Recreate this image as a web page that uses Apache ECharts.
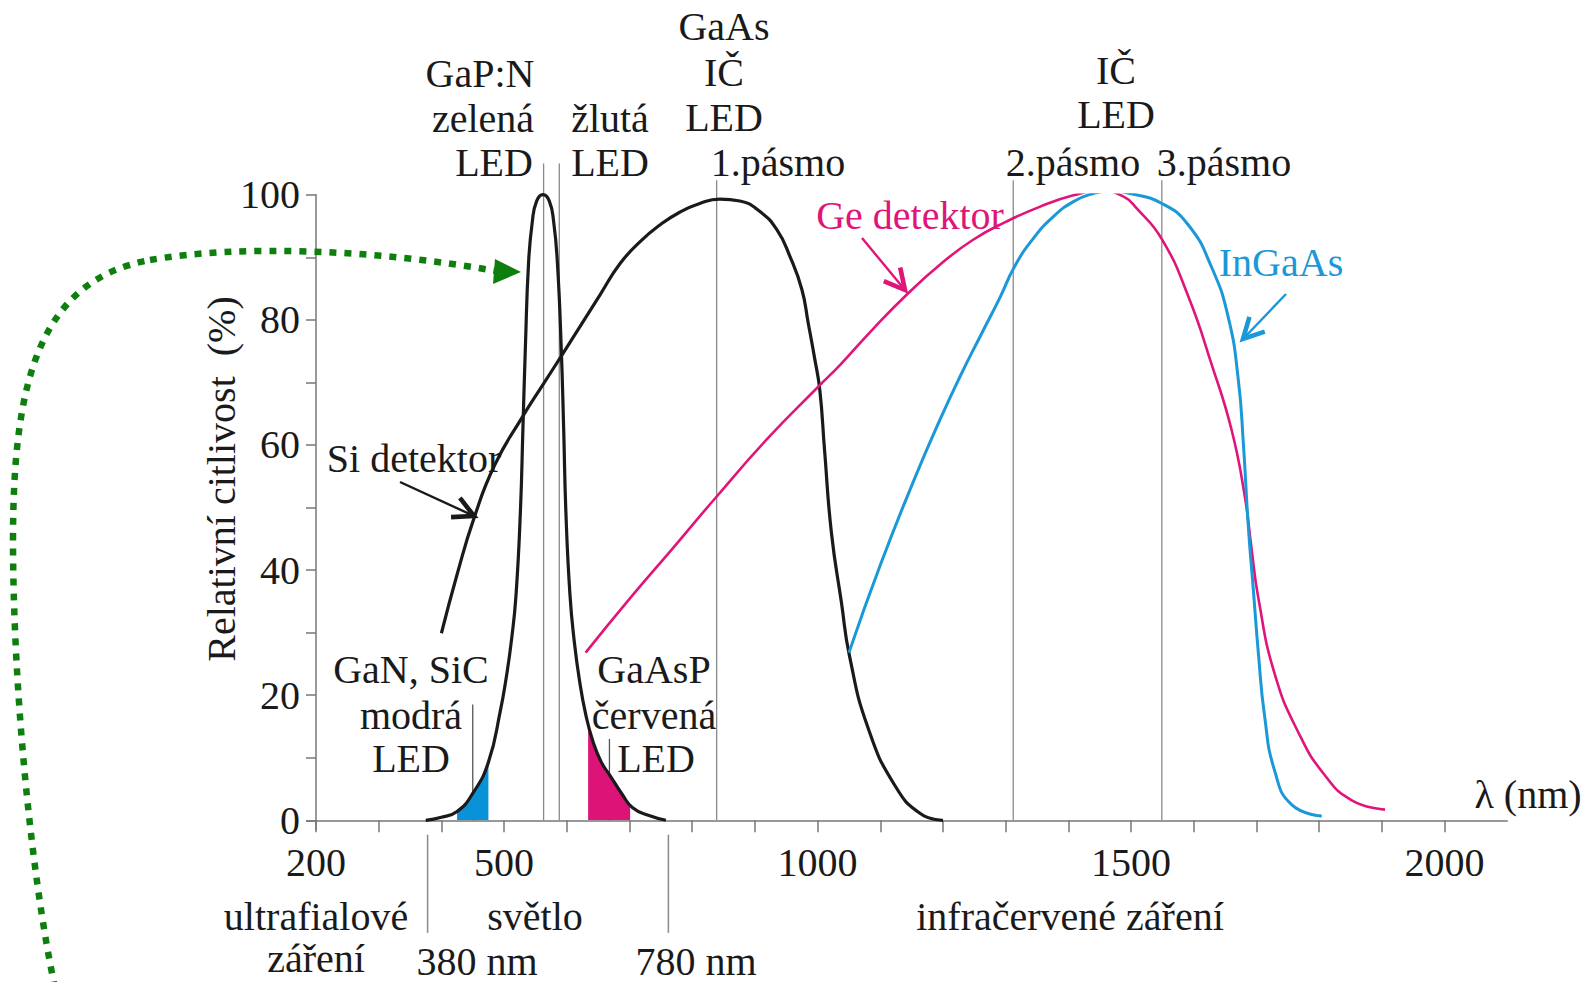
<!DOCTYPE html>
<html><head><meta charset="utf-8">
<script src="https://cdn.jsdelivr.net/npm/echarts@6/dist/echarts.min.js"></script>
<style>html,body{margin:0;padding:0;background:#fff}#c{width:1590px;height:982px}</style>
</head><body><div id="c"></div>
<script>
// ---- data (wavelength nm, relative sensitivity %) ----
const xTickValues = [200,300,400,500,600,700,800,900,1000,1100,1200,1300,1400,1500,1600,1700,1800,1900,2000];
const xLabelValues = [200,500,1000,1500,2000];
const yLabelValues = [0,20,40,60,80,100];
const gapLed = [[375,0],[400,0.5],[425,1.4],[450,4.3],[475,9.3],[494,17.5],[504,23.2],[512,29],[519,36],[526,49.4],[530,62.6],[534,75.8],[539,89.1],[545,95.7],[552,99],[562,100],[572,99],[579,95.7],[585,89.1],[591,75.8],[595,62.6],[598.5,49.4],[605,36.1],[612,28.5],[620,22.5],[630,17],[642,12.5],[655,9.3],[670,7],[688,4.2],[705,2],[730,0.8],[758,0]];
const siDetector = [[400,29.9],[425,39.3],[452,48.3],[485,56.8],[530,64.6],[563,69.8],[595,74.8],[653,84],[685,89],[717,92.5],[749,95.2],[780,97.2],[812,98.6],[844,99.3],[876,99],[908,97.3],[935,94.4],[956,90.1],[975,84.8],[985,79.5],[995,74],[1003.5,68.8],[1011,59.3],[1022,46],[1038,34.8],[1051,26.2],[1080,14.9],[1123,5.6],[1165,1],[1200,0]];
const geDetector = [[630,26.8],[700,35.4],[770,43.6],[836,51.4],[920,61],[1001,69.3],[1036,72.8],[1089,78.6],[1142,84],[1195,88.8],[1248,92.8],[1301,95.7],[1355,98.1],[1408,99.9],[1451,100.6],[1488,99.7],[1509,97.8],[1549,92.9],[1591,83.8],[1628,73],[1660,62.5],[1681,52],[1692,43.5],[1703,35.5],[1729,23.4],[1767,14],[1809,7.2],[1852,3.2],[1905,1.7]];
const inGaAs = [[1050,26.8],[1100,40.8],[1155,54.7],[1195,64],[1227,70.9],[1259,77.3],[1291,83.6],[1314,88.5],[1344,93],[1376,96.5],[1408,98.9],[1440,100.2],[1466,100.6],[1498,100.2],[1549,98.6],[1591,95.2],[1628,88.5],[1655,80.4],[1671,70.4],[1679,60.3],[1687,46.9],[1695,36.8],[1703,26.7],[1713,16.6],[1729,7.9],[1756,2.5],[1804,0.7]];
const blueLedFill = [[425,1.4],[450,4.3],[475,9.3]];
const redLedFill = [[634,15.5],[642,12.5],[655,9.3],[670,7],[688,4.2],[701,2.4]];
const ledPeakLines = [[563,105],[588,105]];          // [nm, top %]
const bandLines = [[839,102.3],[1312,102.3],[1549,102.3]];
const ledMarkLines = [[450,18.5],[668,13]];
const regionLines = [378,762];                      // below the axis

const TXT = '#1a1a1a', MAG = '#e0157a', BLU = '#1b98d8', GRN = '#0e7e0e', GREY = '#8a8a8a';
const FONT = '40px "Liberation Serif", "DejaVu Serif", serif';
const SMOOTH = 0.5;

function vline(x, y0, y1, color, w) {
  return {type:'line', data:[[x,y0],[x,y1]], symbol:'none', clip:false, silent:true, z:1,
          lineStyle:{color:color, width:w}, animation:false};
}
const series = [];
series.push({type:'line', data:redLedFill, smooth:SMOOTH, symbol:'none', z:2, animation:false,
  lineStyle:{width:0}, areaStyle:{color:'#dc1478', opacity:1}});
series.push({type:'line', data:blueLedFill, smooth:SMOOTH, symbol:'none', z:2, animation:false,
  lineStyle:{width:0}, areaStyle:{color:'#0a92d8', opacity:1}});
ledPeakLines.forEach(p => series.push(vline(p[0], 0, p[1], GREY, 1.3)));
bandLines.forEach(p => series.push(vline(p[0], 0, p[1], GREY, 1.3)));
ledMarkLines.forEach(p => series.push(vline(p[0], 0, p[1], '#555', 1.3)));
regionLines.forEach(x => series.push(vline(x, -2.3, -18, GREY, 1.5)));
series.push(vline(200, 0, -1.6, '#777', 1.5));
const curve = (d, c, w) => ({type:'line', data:d, smooth:SMOOTH, symbol:'none', z:5, animation:false,
  lineStyle:{color:c, width:w}});
series.push(curve(gapLed, TXT, 3.2));
series.push(curve(siDetector, TXT, 3.2));
series.push(curve(geDetector, MAG, 2.6));
series.push(curve(inGaAs, BLU, 3));

// ---- annotations (pixel layout) ----
const texts = [
  ['GaAs',724,26], ['IČ',724,72], ['LED',724,117],
  ['GaP:N',480,73], ['zelená',483,118], ['LED',494,162],
  ['žlutá',610,118], ['LED',610,162],
  ['1.pásmo',778,162],
  ['IČ',1116,70], ['LED',1116,114],
  ['2.pásmo',1073,162], ['3.pásmo',1224,162],
  ['Ge detektor',910,215,MAG], ['InGaAs',1281,262,BLU],
  ['Si detektor',414,458],
  ['GaN, SiC',411,669], ['modrá',411,715], ['LED',411,758],
  ['GaAsP',654,669], ['červená',654,715], ['LED',656,758],
  ['λ (nm)',1528,794],
  ['ultrafialové',316,916], ['záření',316,958], ['světlo',535,916], ['infračervené záření',1070,916],
  ['380 nm',477,961], ['780 nm',696,961]
];
const graphic = texts.map(t => ({type:'text', x:t[1], y:t[2], z:10,
  style:{text:t[0], font:FONT, fill:t[3]||TXT, align:'center', verticalAlign:'middle'}}));
graphic.push({type:'text', x:221, y:479, rotation:Math.PI/2, z:10,
  style:{text:'Relativní citlivost  (%)', font:FONT, fill:TXT, align:'center', verticalAlign:'middle'}});

function arrow(x1,y1,x2,y2,color,w){
  const a = Math.atan2(y2-y1, x2-x1), L = 23, s = 0.48;
  return [
    {type:'line', z:10, shape:{x1:x1,y1:y1,x2:x2,y2:y2}, style:{stroke:color, lineWidth:w}},
    {type:'polyline', z:10, shape:{points:[[x2-L*Math.cos(a-s), y2-L*Math.sin(a-s)],[x2,y2],[x2-L*Math.cos(a+s), y2-L*Math.sin(a+s)]]},
     style:{stroke:color, lineWidth:w+2.2, fill:null, lineJoin:'miter'}}
  ];
}
graphic.push(...arrow(400,482,474,516,TXT,2.4));
graphic.push(...arrow(862,238,905,290,MAG,2.4));
graphic.push(...arrow(1286,294,1243,339,BLU,2.4));
const dotStyle = {stroke:GRN, lineWidth:6.5, lineDash:[7,8], fill:null};
const beziers = [
  [55,988, 30,870, 13,680, 13,540],
  [13,540, 13,380, 40,280, 150,260],
  [150,260, 240,244, 380,250, 496,271]
];
beziers.forEach(b => graphic.push({type:'bezierCurve', z:10,
  shape:{x1:b[0],y1:b[1],cpx1:b[2],cpy1:b[3],cpx2:b[4],cpy2:b[5],x2:b[6],y2:b[7]}, style:dotStyle}));
graphic.push({type:'polygon', z:10, shape:{points:[[495,259],[521,272],[493,284]]}, style:{fill:GRN}});

const chart = echarts.init(document.getElementById('c'), null, {renderer:'svg'});
chart.setOption({
  animation:false,
  backgroundColor:'#fff',
  grid:{left:306.6, right:82.7, top:194.7, bottom:161.7, containLabel:false},
  xAxis:{type:'value', min:185, max:2100,
    axisLine:{show:true, onZero:false, lineStyle:{color:'#777', width:1.5}},
    axisTick:{show:true, customValues:xTickValues, length:12, lineStyle:{color:'#777', width:1.5}},
    axisLabel:{customValues:xLabelValues, formatter:v => String(v), margin:22, color:TXT, fontSize:40, fontFamily:'"Liberation Serif", serif'},
    splitLine:{show:false}},
  yAxis:{type:'value', min:0, max:100, interval:10, offset:-9.4,
    axisLine:{show:true, lineStyle:{color:'#777', width:1.5}},
    axisTick:{show:true, length:10, lineStyle:{color:'#777', width:1.5}},
    axisLabel:{customValues:yLabelValues, formatter:v => String(v), margin:16, color:TXT, fontSize:40, fontFamily:'"Liberation Serif", serif'},
    splitLine:{show:false}},
  series: series,
  graphic: graphic
});
</script></body></html>
